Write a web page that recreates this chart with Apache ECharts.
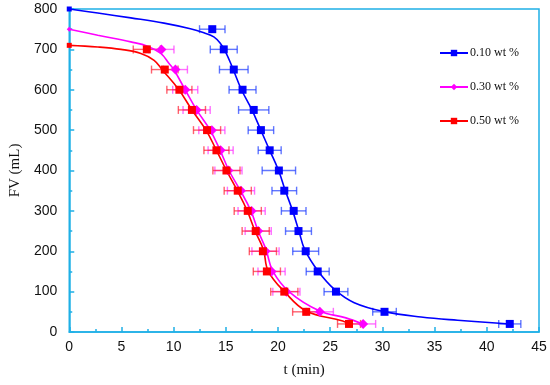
<!DOCTYPE html>
<html><head><meta charset="utf-8">
<script src="https://cdn.jsdelivr.net/npm/echarts@6/dist/echarts.min.js"></script>
<style>html,body{margin:0;padding:0;background:#fff}#c{width:550px;height:385px}</style>
</head><body><div id="c"></div>
<script>
// Series names
const seriesNames = ['0.10 wt %', '0.30 wt %', '0.50 wt %'];

// Measured points (t in min, FV in mL) and horizontal error (min)
const t010  = [0, 13.7, 14.8, 15.76, 16.6, 17.67, 18.36, 19.2, 20.08, 20.6, 21.5, 21.96, 22.65, 23.8, 25.55, 30.2, 42.2];
const fv010 = [800, 750, 700, 650, 600, 550, 500, 450, 400, 350, 300, 250, 200, 150, 100, 50, 20];
const err010 = [null, 1.22, 1.29, 1.37, 1.29, 1.45, 1.22, 1.1, 1.6, 1.18, 1.18, 1.24, 1.24, 1.1, 1.14, 1.13, 1.06];

const t030  = [0, 8.83, 10.17, 11.11, 12.2, 13.66, 14.5, 15.25, 16.45, 17.47, 18.1, 18.8, 19.38, 20.8, 24.0, 28.15];
const fv030 = [750, 700, 650, 600, 550, 500, 450, 400, 350, 300, 250, 200, 150, 100, 50, 20];
const err030 = [null, 1.2, 1.15, 1.2, 1.3, 1.25, 1.2, 1.3, 1.3, 1.3, 1.25, 1.3, 1.3, 1.3, 1.3, 1.2];

const t050  = [0, 7.43, 9.15, 10.55, 11.75, 13.2, 14.1, 15.06, 16.14, 17.1, 17.86, 18.55, 18.93, 20.6, 22.7, 26.8];
const fv050 = [710, 700, 650, 600, 550, 500, 450, 400, 350, 300, 250, 200, 150, 100, 50, 20];
const err050 = [null, 1.3, 1.27, 1.2, 1.3, 1.3, 1.2, 1.3, 1.3, 1.3, 1.3, 1.3, 1.3, 1.3, 1.3, 1.1];

// Fitted curves
const fitT010  = [0, 2.73, 5.9, 9.08, 11.6, 12.9, 13.85, 14.5, 14.97, 15.6, 16.5, 17.5, 18.35, 19.2, 20.05, 20.7, 21.4, 22.0, 22.56, 23.83, 25.4, 27.3, 30.2, 33.7, 37.2, 42.2];
const fitFV010 = [800, 790, 778, 765, 751, 741, 731, 714, 694, 657, 600, 550, 500, 450, 400, 350, 300, 250, 204, 151, 105.6, 72.7, 50.4, 37, 29, 20];

const fitT030  = [0, 2.73, 5.9, 7.5, 8.77, 9.56, 10.04, 11.1, 12.2, 13.5, 14.45, 15.3, 16.4, 17.4, 18.1, 18.85, 19.5, 21.1, 24.0, 26.5, 28.1];
const fitFV030 = [750, 735, 718.5, 708, 690, 665, 649, 600, 550, 500, 450, 400, 350, 300, 250, 204, 151, 99, 52, 35, 20];

const fitT050  = [0, 2.73, 4.96, 6.86, 8.13, 8.92, 10.5, 11.75, 13.1, 14.1, 15.06, 16.1, 17.05, 17.8, 18.6, 19.06, 20.65, 22.7, 26.2, 26.85];
const fitFV050 = [710, 706, 700, 690, 673, 649, 600, 550, 500, 450, 400, 350, 300, 250, 204, 151, 99, 52, 27, 19];

// Axis ticks
const xTicks = [0, 5, 10, 15, 20, 25, 30, 35, 40, 45];
const yTicks = [0, 100, 200, 300, 400, 500, 600, 700, 800];

const colors = ['#0000ff', '#ff00ff', '#ff0000'];
const errColors = ['rgba(30,60,255,0.7)', 'rgba(255,50,255,0.7)', 'rgba(255,30,50,0.7)'];
const symbols = ['rect', 'diamond', 'rect'];
const axisColor = '#1fb0e6';
const serif = 'Liberation Serif, Times New Roman, serif';
const sans = 'Liberation Sans, Arial, sans-serif';

const pts = [[t010, fv010, err010], [t030, fv030, err030], [t050, fv050, err050]];
const fits = [[fitT010, fitFV010], [fitT030, fitFV030], [fitT050, fitFV050]];

const series = [];
pts.forEach(([t, fv, err], i) => {
  const errData = [];
  t.forEach((x, k) => { if (err[k] != null) errData.push([x - err[k], x + err[k], fv[k]]); });
  series.push({
    type: 'custom',
    name: seriesNames[i] + ' err',
    data: errData,
    z: 2,
    silent: true,
    renderItem: function (params, api) {
      const a = api.coord([api.value(0), api.value(2)]);
      const b = api.coord([api.value(1), api.value(2)]);
      const h = 4;
      const st = { stroke: errColors[i], lineWidth: 1.4 };
      return { type: 'group', children: [
        { type: 'line', shape: { x1: a[0], y1: a[1], x2: b[0], y2: b[1] }, style: st },
        { type: 'line', shape: { x1: a[0], y1: a[1] - h, x2: a[0], y2: a[1] + h }, style: st },
        { type: 'line', shape: { x1: b[0], y1: b[1] - h, x2: b[0], y2: b[1] + h }, style: st }
      ]};
    }
  });
});
fits.forEach(([t, fv], i) => {
  series.push({
    type: 'line',
    name: seriesNames[i],
    data: t.map((x, k) => [x, fv[k]]),
    smooth: 0.4,
    symbol: symbols[i],
    showSymbol: false,
    clip: true,
    z: 3,
    itemStyle: { color: colors[i] },
    lineStyle: { color: colors[i], width: 1.6 },
    silent: true
  });
});
pts.forEach(([t, fv], i) => {
  series.push({
    type: 'scatter',
    name: seriesNames[i] + ' pts',
    data: t.map((x, k) => [x, fv[k]]),
    symbol: symbols[i],
    symbolSize: (v) => v[0] === 0 ? 5 : (symbols[i] === 'diamond' ? 10 : 8),
    z: 4,
    itemStyle: { color: colors[i], opacity: 1 },
    silent: true
  });
});

const chart = echarts.init(document.getElementById('c'), null, { renderer: 'canvas' });
chart.setOption({
  animation: false,
  backgroundColor: '#fff',
  grid: { left: 67, right: 11, top: 9, bottom: 53, show: true, borderColor: axisColor, borderWidth: 1.5, backgroundColor: 'transparent' },
  legend: {
    data: seriesNames,
    orient: 'vertical',
    left: 434, top: 42,
    itemWidth: 28, itemHeight: 8, itemGap: 22,
    textStyle: { fontFamily: serif, fontSize: 12, color: '#111', padding: [0, 0, 0, -3] }
  },
  xAxis: {
    type: 'value', min: 0, max: 45, interval: 5,
    name: 't (min)', nameLocation: 'middle', nameGap: 31,
    nameTextStyle: { fontFamily: serif, fontSize: 15, color: '#111' },
    axisLine: { show: true, lineStyle: { color: axisColor, width: 1.5 } },
    axisTick: { show: true, inside: true, length: 5, lineStyle: { color: axisColor, width: 1.5 } },
    minorTick: { show: true, splitNumber: 2, length: 3, lineStyle: { color: axisColor, width: 1.5 } },
    splitLine: { show: false },
    axisLabel: { fontFamily: sans, fontSize: 14, color: '#111', margin: 8,
      formatter: (v) => xTicks.includes(v) ? String(v) : '' }
  },
  yAxis: {
    type: 'value', min: 0, max: 800, interval: 100,
    name: 'FV (mL)', nameLocation: 'middle', nameGap: 46,
    nameTextStyle: { fontFamily: serif, fontSize: 15, color: '#111' },
    axisLine: { show: true, lineStyle: { color: axisColor, width: 1.5 } },
    axisTick: { show: true, inside: true, length: 5, lineStyle: { color: axisColor, width: 1.5 } },
    minorTick: { show: true, splitNumber: 2, length: 3, lineStyle: { color: axisColor, width: 1.5 } },
    splitLine: { show: false },
    axisLabel: { fontFamily: sans, fontSize: 14, color: '#111', margin: 12,
      formatter: (v) => yTicks.includes(v) ? String(v) : '' }
  },
  series: series
});
</script>
</body></html>
